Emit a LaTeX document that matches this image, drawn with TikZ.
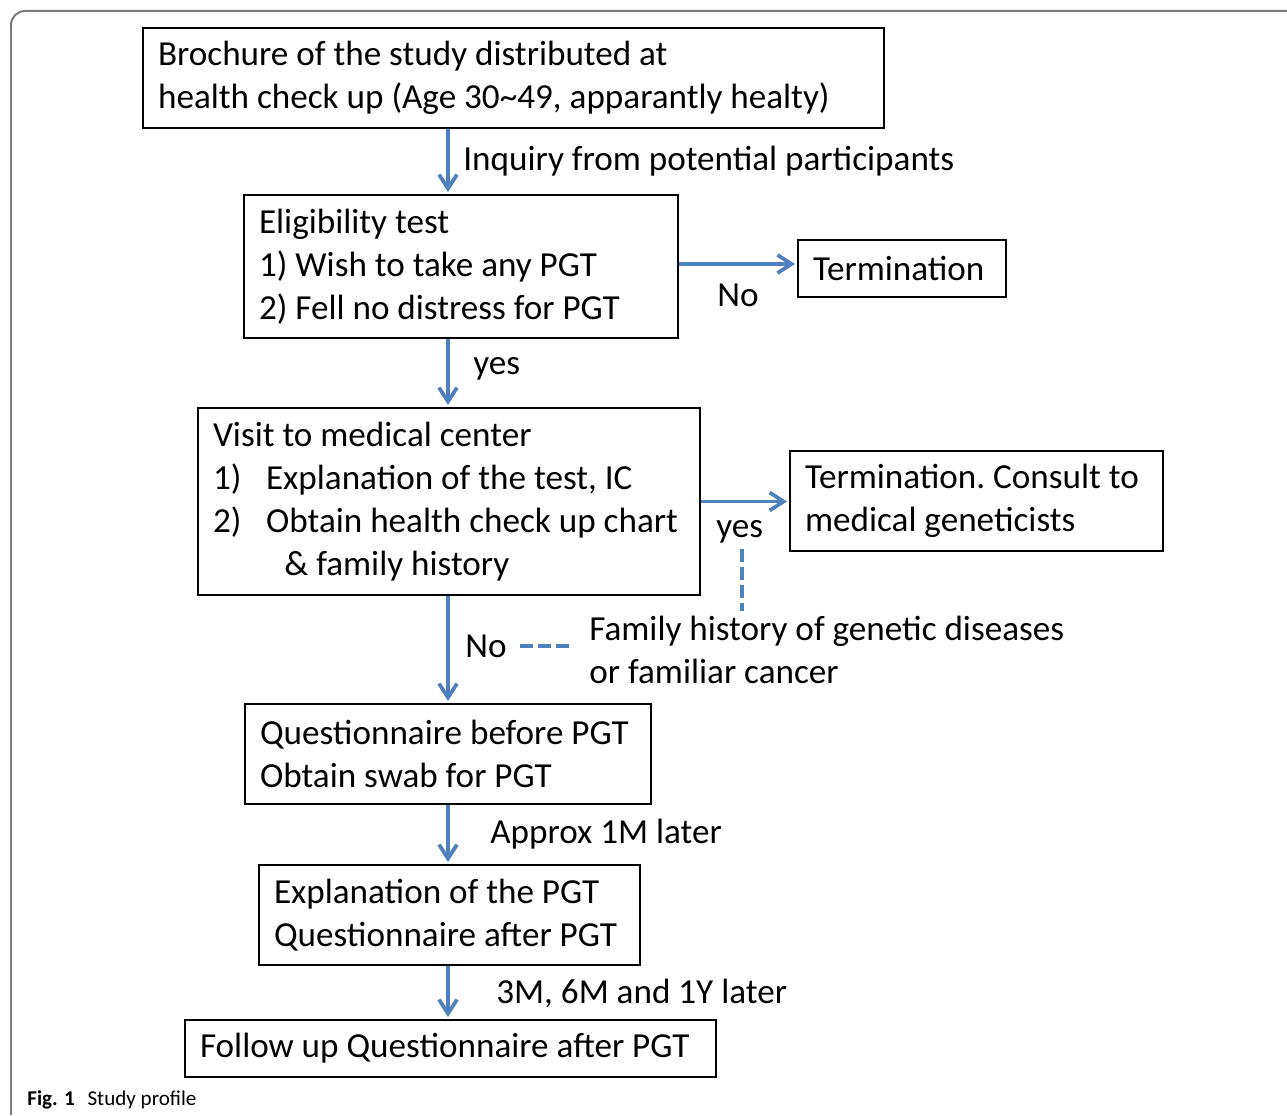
\documentclass[tikz,border=0pt]{standalone}
\usepackage{fontspec}
\setmainfont{Carlito}
\usetikzlibrary{arrows.meta}
\definecolor{flowblue}{HTML}{4F81BD}
\definecolor{framegray}{HTML}{7A7A7A}
\begin{document}
\begin{tikzpicture}[
        x=0.02cm, y=-0.02cm,
        box/.style={rectangle, draw, line width=0.04cm, align=left, inner xsep=0.3cm, font=\fontsize{20}{24.5}\selectfont, execute at begin node={\spaceskip=0pt\xspaceskip=0pt\frenchspacing}},
        lbl/.style={font=\fontsize{20}{24.5}\selectfont, inner sep=0.06cm, anchor=west},
        arrow/.style={-{Straight Barb[length=0.28cm,width=0.36cm]}, line width=0.075cm, draw=flowblue, shorten >=0.04cm},
        dashline/.style={draw=flowblue, line width=0.075cm, dash pattern=on 0.26cm off 0.1cm}
    ]
        \useasboundingbox (0,0) rectangle (1287,1115);
        \draw[framegray, line width=0.04cm, rounded corners=0.28cm] (11,1115) -- (11,11) -- (1287,11);
        \node[anchor=base west, inner sep=0, font=\fontsize{12}{14}\selectfont] (caption) at (27,1105) {\textbf{Fig. 1}\hspace{0.6em}Study profile};
        
        \node[box, text width=14.22cm, minimum height=2cm] (brochure) at (513.5,78) {Brochure of the study distributed at\\health check up (Age 30\textasciitilde49, apparantly healty)};
        \node[box, text width=8.08cm, minimum height=2.86cm] (elig) at (461,266.5) {Eligibility test\\1) Wish to take any PGT\\2) Fell no distress for PGT};
        \node[box, text width=3.56cm, minimum height=1.14cm] (term1) at (902,268.5) {Termination};
        \node[box, text width=9.44cm, minimum height=3.74cm] (visit) at (449,501.5) {Visit to medical center\\\makebox[1.51em][l]{1)}Explanation of the test, IC\\\makebox[1.51em][l]{2)}Obtain health check up chart\\\hspace*{2.03em}\& family history};
        \node[box, text width=6.86cm, minimum height=2cm] (term2) at (976.5,501) {Termination. Consult to\\medical geneticists};
        \node[box, text width=7.52cm, minimum height=2cm] (quest) at (448,754) {Questionnaire before PGT\\Obtain swab for PGT};
        \node[box, text width=7.02cm, minimum height=2cm] (expl) at (449.5,915) {Explanation of the PGT\\Questionnaire after PGT};
        \node[box, text width=10.02cm, minimum height=1.14cm] (follow) at (450.5,1048.5) {Follow up Questionnaire after PGT};
        
        \node[lbl] (inquiry) at (460,161) {Inquiry from potential participants};
        \node[lbl] (yes1) at (470,369) {yes};
        \node[lbl] (no1) at (714,295) {No};
        \node[lbl] (yes2) at (713,532) {yes};
        \node[lbl] (no2) at (462,646) {No};
        \node[lbl, align=left] (family) at (586,650) {Family history of genetic diseases\\or familiar cancer};
        \node[lbl] (approx) at (487,834) {Approx 1M later};
        \node[lbl] (later) at (493,994) {3M, 6M and 1Y later};
        
        \coordinate (spine) at (448,0);
        \draw[arrow] (brochure.south -| spine) -- (elig.north -| spine);
        \draw[arrow] (elig.south -| spine) -- (visit.north -| spine);
        \draw[arrow] ([yshift=0.05cm]elig.east) -- ([yshift=0.05cm]elig.east -| term1.west);
        \draw[arrow] (visit.east) -- (visit.east -| term2.west);
        \draw[arrow] (visit.south -| spine) -- (quest.north -| spine);
        \draw[arrow] (quest.south -| spine) -- (expl.north -| spine);
        \draw[arrow] (expl.south -| spine) -- (follow.north -| spine);
        \draw[dashline, shorten <=0.04cm, shorten >=0.04cm] ([xshift=0.04cm]yes2.south) -- ([xshift=0.04cm]yes2.south |- family.north);
        \draw[dashline, shorten <=0.2cm, shorten >=0.26cm] (no2.east) -- (no2.east -| family.west);
    \end{tikzpicture}
\end{document}
